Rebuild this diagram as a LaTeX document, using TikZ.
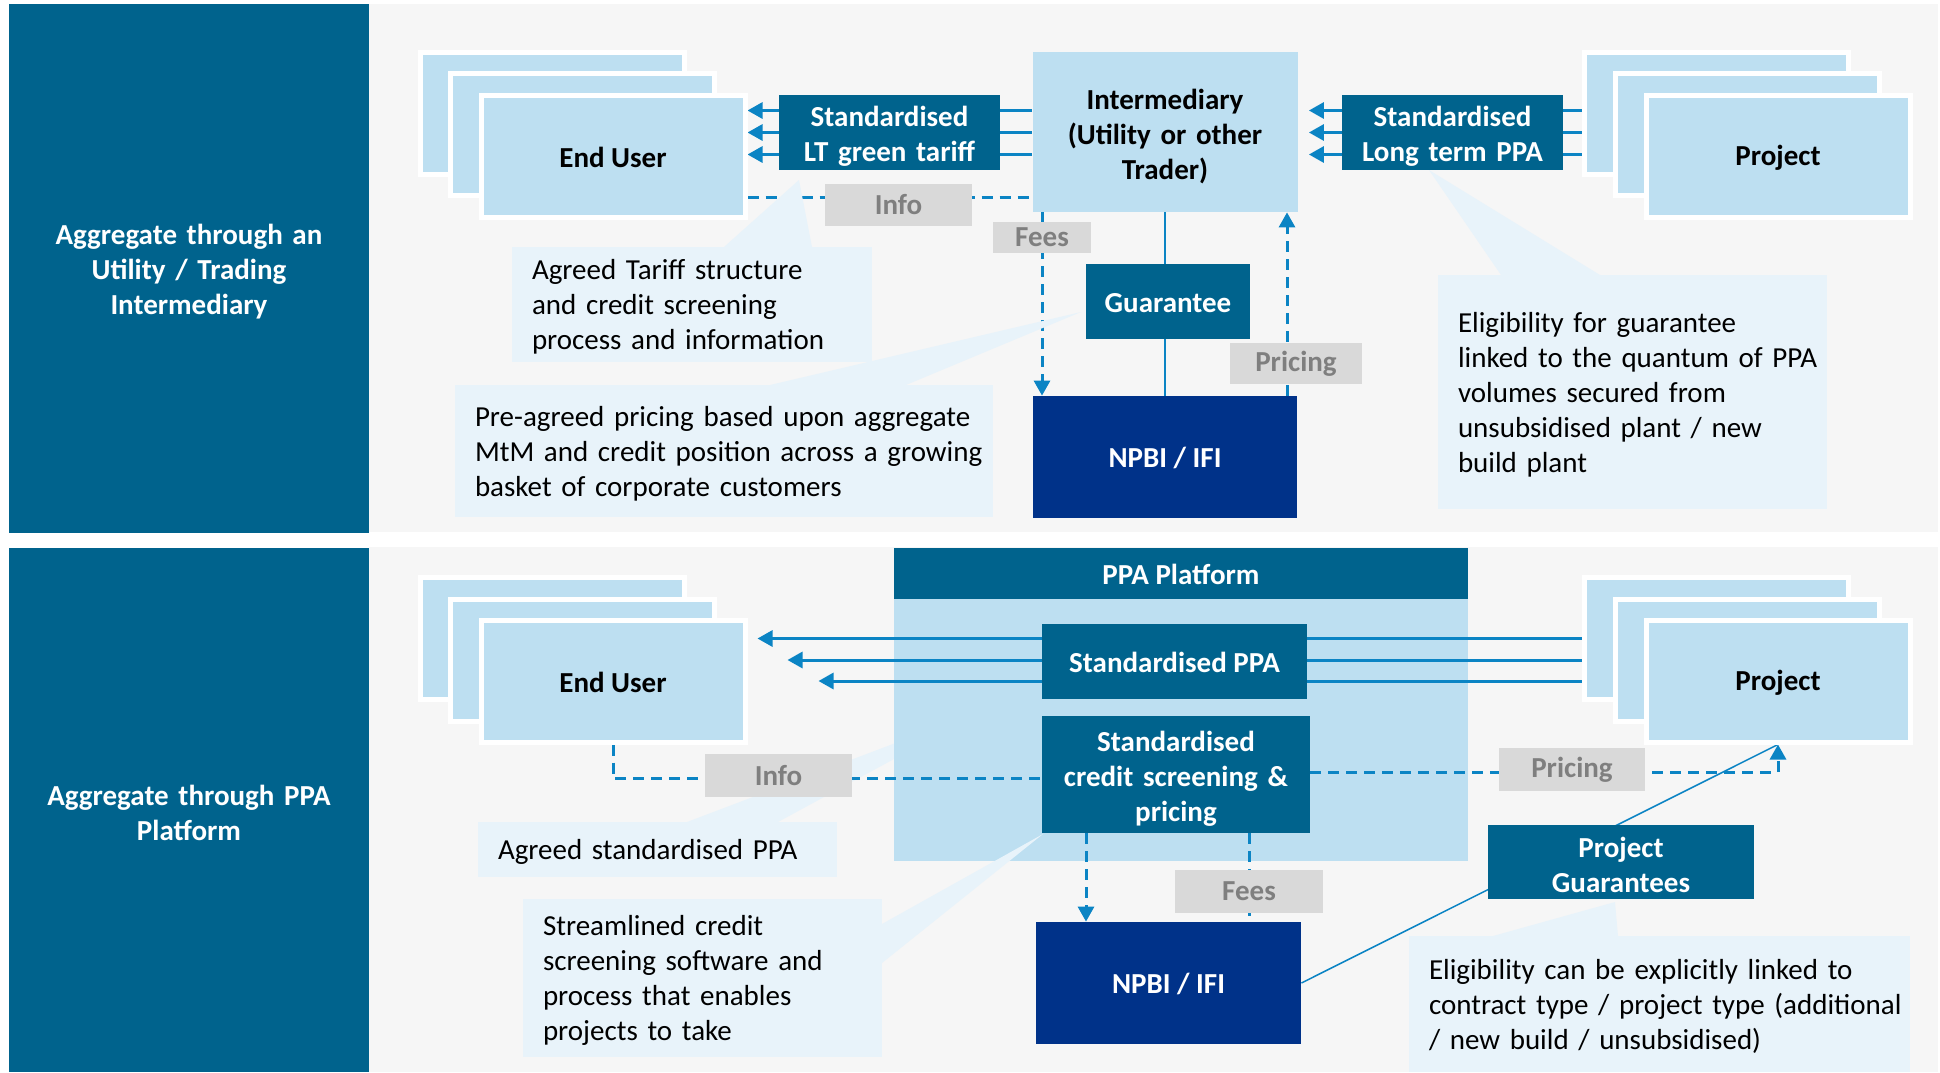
\documentclass[tikz,border=0pt]{standalone}
\usepackage{fontspec}
\setmainfont{Carlito}
\usetikzlibrary{arrows.meta}

\definecolor{sideteal}{HTML}{00638D}
\definecolor{boxblue}{HTML}{BDDFF1}
\definecolor{navy}{HTML}{003289}
\definecolor{notefill}{HTML}{E8F3FA}
\definecolor{taggray}{HTML}{D9D9D9}
\definecolor{tagtext}{HTML}{7F7F7F}
\definecolor{panelgray}{HTML}{F6F6F6}
\definecolor{flowblue}{HTML}{0B84C4}

\pgfdeclarelayer{bg}
\pgfdeclarelayer{lines}
\pgfsetlayers{bg,lines,main}

\begin{document}
\fontsize{14.5}{17.5}\selectfont
\begin{tikzpicture}[x=0.5pt,y=-0.5pt,
	lowtext/.style={execute at begin node={\rule{0pt}{#1}}},
	lowtext/.default=11.5pt,
	sidepanel/.style={fill=sideteal,text=white,font=\bfseries,align=center,inner sep=0pt,text width=180pt,lowtext=13.5pt},
	stackbox/.style={fill=boxblue,draw=white,line width=2.5pt,minimum width=132pt,minimum height=61pt,font=\bfseries,lowtext},
	lightbox/.style={fill=boxblue,font=\bfseries,align=center,inner sep=0pt,lowtext},
	darkbox/.style={fill=sideteal,text=white,font=\bfseries,align=center,inner sep=0pt,lowtext},
	navybox/.style={fill=navy,text=white,font=\bfseries,inner sep=0pt,lowtext},
	tagbox/.style={fill=taggray,text=tagtext,font=\bfseries,inner sep=0pt},
	note/.style={fill=notefill,align=left,inner xsep=10pt,inner ysep=0pt,lowtext=12.5pt},
	flow/.style={draw=flowblue,line width=1.5pt,-{Triangle[length=7.5pt,width=8pt]}},
	dashflow/.style={draw=flowblue,line width=1.5pt,dash pattern=on 5.5pt off 3.5pt},
	headed/.style={-{Triangle[length=7.5pt,width=8pt]}},
	thinflow/.style={draw=flowblue,line width=0.75pt}]
	\useasboundingbox (0,0) rectangle (1940,1072);
	\begin{pgfonlayer}{bg}
	\fill[white] (0,0) rectangle (1940,1072);
	\fill[panelgray] (369,4) rectangle (1938,532);
	\fill[panelgray] (369,547) rectangle (1938,1072);
	\fill[notefill] (687,822) -- (988,708) -- (778,822) -- cycle;
	\node[fill=boxblue,minimum width=287pt,minimum height=131pt,inner sep=0pt] (platform) at (1181,730) {};
	\end{pgfonlayer}
	\node[sidepanel,minimum height=264.5pt] (sideT) at (189,268.5) {Aggregate through an\\Utility / Trading\\Intermediary};
	\node[sidepanel,minimum height=262pt] (sideB) at (189,810) {Aggregate through PPA\\Platform};

	\fill[notefill] (770,385) -- (1081,312) -- (906,385) -- cycle;
	\fill[notefill] (724,247) -- (799,180) -- (812,247) -- cycle;
	\fill[notefill] (1501,275) -- (1429,170) -- (1600,275) -- cycle;
	\fill[notefill] (882,924) -- (1043,834) -- (882,963) -- cycle;
	\fill[notefill] (1493,936) -- (1615,902) -- (1618,936) -- cycle;
	\node[note,text width=160pt,minimum height=57.5pt] (noteTariff) at (692,304.5) {\mbox{Agreed Tariff structure}\\\mbox{and credit screening}\\\mbox{process and information}};
	\node[note,text width=249pt,minimum height=66pt] (notePricing) at (724,451) {\mbox{Pre-agreed pricing based upon aggregate}\\\mbox{MtM and credit position across a growing}\\\mbox{basket of corporate customers}};
	\node[note,text width=174.5pt,minimum height=117pt] (noteGuar) at (1632.5,392) {\mbox{Eligibility for guarantee}\\\mbox{linked to the quantum of PPA}\\\mbox{volumes secured from}\\\mbox{unsubsidised plant / new}\\\mbox{build plant}};
	\node[note,text width=159.5pt,minimum height=27.5pt] (notePPA) at (657.5,849.5) {\mbox{Agreed standardised PPA}};
	\node[note,text width=159.5pt,minimum height=79pt] (noteSoft) at (702.5,978) {\mbox{Streamlined credit}\\\mbox{screening software and}\\\mbox{process that enables}\\\mbox{projects to take}};
	\node[note,text width=230.5pt,minimum height=68pt] (noteElig) at (1659.5,1004) {\mbox{Eligibility can be explicitly linked to}\\\mbox{contract type / project type (additional}\\\mbox{/ new build / unsubsidised)}};

	\node[stackbox] (euTa) at (552,113) {};
	\node[stackbox] (euTb) at (582,134.5) {};
	\node[stackbox] (euTc) at (613,156) {End User};
	\node[stackbox] (prjTa) at (1716,113) {};
	\node[stackbox] (prjTb) at (1747,134.5) {};
	\node[stackbox] (prjTc) at (1778,156) {Project};
	\node[darkbox,text width=110.5pt,minimum height=37.5pt,lowtext=13.5pt] (tariff) at (889.5,132.5) {Standardised\\LT green tariff};
	\node[darkbox,text width=110.5pt,minimum height=37.5pt,lowtext=13.5pt] (ltppa) at (1452.5,132.5) {Standardised\\Long term PPA};
	\node[lightbox,text width=132.5pt,minimum height=80pt,lowtext=15pt] (inter) at (1165,132) {Intermediary\\(Utility or other\\Trader)};
	\node[tagbox,minimum width=73.5pt,minimum height=21pt] (infoT) at (898.5,205) {Info};
	\node[tagbox,minimum width=49pt,minimum height=15.5pt] (feesT) at (1042,237.5) {Fees};
	\node[darkbox,minimum width=82pt,minimum height=37.5pt] (guar) at (1168,301.5) {Guarantee};
	\node[tagbox,minimum width=66pt,minimum height=20.5pt] (priceT) at (1296,363.5) {Pricing};
	\node[navybox,minimum width=132pt,minimum height=61pt] (npbiT) at (1165,457) {NPBI / IFI};

	\node[stackbox] (euBa) at (552,638.5) {};
	\node[stackbox] (euBb) at (582,660) {};
	\node[stackbox] (euBc) at (613,681) {End User};
	\node[stackbox] (prjBa) at (1716,638.5) {};
	\node[stackbox] (prjBb) at (1747,660) {};
	\node[stackbox] (prjBc) at (1778,681) {Project};
	\node[darkbox,minimum width=287pt,minimum height=25.5pt] (platformhead) at (1181,573.5) {PPA Platform};
	\node[darkbox,minimum width=132.5pt,minimum height=37.5pt] (stdppa) at (1174.5,661.5) {Standardised PPA};
	\node[darkbox,text width=134pt,minimum height=58.5pt,lowtext=14pt] (credit) at (1176,774.5) {Standardised\\credit screening \&\\pricing};
	\node[tagbox,minimum width=73.5pt,minimum height=21.5pt] (infoB) at (778.5,775.5) {Info};
	\node[tagbox,minimum width=74pt,minimum height=21.5pt] (feesB) at (1249,891.5) {Fees};
	\node[tagbox,minimum width=73pt,minimum height=21.5pt] (priceB) at (1572,769.5) {Pricing};
	\node[navybox,minimum width=132.5pt,minimum height=61pt] (npbiB) at (1168.5,983) {NPBI / IFI};
	\node[darkbox,text width=133pt,minimum height=37pt,lowtext=13.5pt] (pguar) at (1621,862) {Project\\Guarantees};

	\begin{pgfonlayer}{lines}
	\draw[flow] ([yshift=11pt]tariff.center -| inter.west) -- ([yshift=11pt]tariff.center -| euTc.east);
	\draw[flow] (tariff.center -| inter.west) -- (tariff.center -| euTc.east);
	\draw[flow] ([yshift=-11pt]tariff.center -| inter.west) -- ([yshift=-11pt]tariff.center -| euTc.east);
	\draw[flow] ([yshift=11pt]ltppa.center -| prjTa.west) -- ([yshift=11pt,xshift=5.5pt]ltppa.center -| inter.east);
	\draw[flow] (ltppa.center -| prjTa.west) -- ([xshift=5.5pt]ltppa.center -| inter.east);
	\draw[flow] ([yshift=-11pt]ltppa.center -| prjTa.west) -- ([yshift=-11pt,xshift=5.5pt]ltppa.center -| inter.east);
	\draw[dashflow] ([yshift=4pt]infoT.center -| euTc.east) -- ([yshift=4pt]infoT.center -| inter.west);
	\draw[dashflow,headed] (inter.south -| feesT) -- (npbiT.north -| feesT);
	\draw[dashflow,headed] ([xshift=61pt]npbiT.north) -- ([xshift=61pt]npbiT.north |- inter.south);
	\draw[thinflow] (inter.south) -- (npbiT.north);

	\draw[flow] (prjBa.west) -- ([xshift=35.5pt]euBa.east);
	\draw[flow] (prjBb.west) -- ([xshift=35.5pt]euBb.east);
	\draw[flow] (prjBc.west) -- ([xshift=35.5pt]euBc.east);
	\draw[dashflow] (euBc.south) |- ([yshift=-2pt]credit.west);
	\draw[dashflow,headed] ([yshift=1pt]credit.east) -| (prjBc.south);
	\draw[dashflow,headed] ([xshift=-45pt]credit.south) -- ([xshift=-45pt]credit.south |- npbiB.north);
	\draw[dashflow] (credit.south -| feesB) -- (npbiB.north -| feesB);
	\draw[thinflow] (npbiB.east) -- (prjBc.south);
	\end{pgfonlayer}
\end{tikzpicture}
\end{document}
